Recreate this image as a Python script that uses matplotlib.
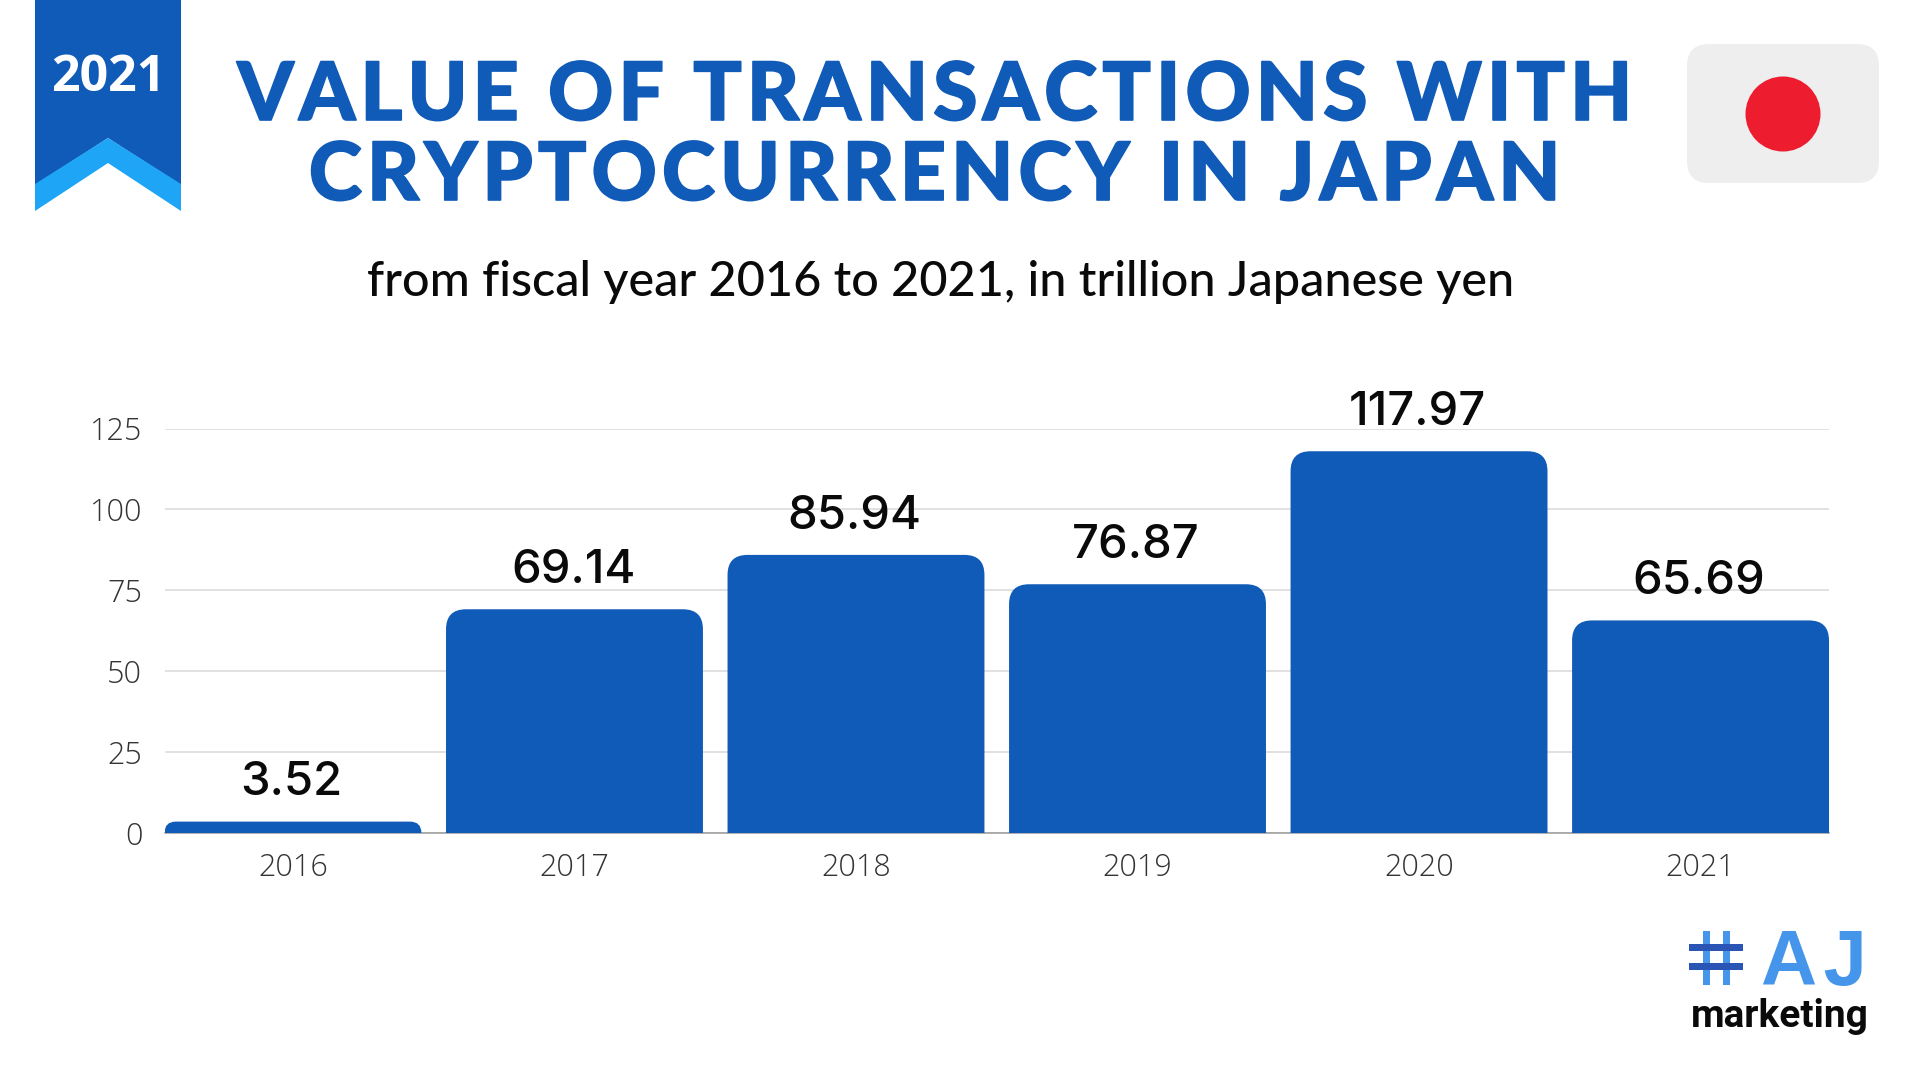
"""
Value of transactions with cryptocurrency in Japan, fiscal years 2016 to 2021.
Rounded bars plus the ribbon, flag and logo decorations. Saves out.png.
"""
from __future__ import annotations

import matplotlib
matplotlib.use("Agg")
import matplotlib.patheffects as pe
import matplotlib.pyplot as plt
from matplotlib.patches import Circle, FancyBboxPatch, PathPatch, Polygon, Rectangle
from matplotlib.path import Path

YEARS = ["2016", "2017", "2018", "2019", "2020", "2021"]
VALUES = [3.52, 69.14, 85.94, 76.87, 117.97, 65.69]
VALUE_LABELS = ["3.52", "69.14", "85.94", "76.87", "117.97", "65.69"]
Y_TICKS = [0, 25, 50, 75, 100, 125]

BLUE = "#105ab8"
LIGHT_BLUE = "#1ea5f5"
LOGO_BLUE = "#4596ea"
LOGO_DARK = "#2a55b5"
W, H = 1920, 1080
HAIR = "\u200a"


def spaced(text: str, n: int = 1) -> str:
    # matplotlib has no letter spacing, so pad with hair spaces
    return (HAIR * n).join(text)


def rounded_bar(ax, bar, radius_px: float) -> None:
    # swap a square bar for one with rounded top corners
    x0, w = bar.get_x(), bar.get_width()
    h = bar.get_height()
    x1 = x0 + w
    xmin, xmax = ax.get_xlim()
    ymin, ymax = ax.get_ylim()
    px_x = ax.bbox.width / (xmax - xmin)
    px_y = ax.bbox.height / (ymax - ymin)
    r_px = min(radius_px, h * px_y)
    rx, ry = r_px / px_x, r_px / px_y
    verts = [
        (x0, 0), (x0, h - ry), (x0, h), (x0 + rx, h),
        (x1 - rx, h), (x1, h), (x1, h - ry), (x1, 0), (x0, 0),
    ]
    codes = [
        Path.MOVETO, Path.LINETO, Path.CURVE3, Path.CURVE3,
        Path.LINETO, Path.CURVE3, Path.CURVE3, Path.LINETO, Path.CLOSEPOLY,
    ]
    bar.set_visible(False)
    ax.add_patch(PathPatch(Path(verts, codes), facecolor=BLUE, edgecolor="none", zorder=3))


def main() -> None:
    fig = plt.figure(figsize=(W / 100, H / 100), dpi=100, facecolor="white")

    # Chart
    ax = fig.add_axes([164.5 / W, (H - 833) / H, 1664.5 / W, 404.5 / H])
    bar_w = 0.9126
    ax.set_xlim(-bar_w / 2, 5 + bar_w / 2)
    ax.set_ylim(0, 125)
    positions = list(range(len(YEARS)))
    bars = ax.bar(positions, VALUES, width=bar_w, color=BLUE, zorder=3)
    for bar in bars:
        rounded_bar(ax, bar, 20)
    for x, val, lab in zip(positions, VALUES, VALUE_LABELS):
        ax.annotate(lab, (x, val), xytext=(-1, 19), textcoords="offset points",
                    ha="center", va="baseline", fontsize=34, color="#0a0a0a",
                    family="Inter", fontweight="medium")

    ax.set_xticks(positions, YEARS)
    ax.set_yticks(Y_TICKS)
    ax.tick_params(axis="both", length=0, labelsize=22, labelcolor="#333333")
    ax.tick_params(axis="x", pad=14)
    ax.tick_params(axis="y", pad=16)
    for lab in ax.get_xticklabels() + ax.get_yticklabels():
        lab.set_family("Open Sans")
        lab.set_fontweight("light")
    ax.grid(True, axis="y", color="#d8d8d8", linewidth=1.1, zorder=0)
    ax.set_axisbelow(True)
    for name, spine in ax.spines.items():
        spine.set_visible(name == "bottom")
    ax.spines["bottom"].set_color("#999999")
    ax.spines["bottom"].set_linewidth(1.1)

    # Decorations, in pixel coordinates
    deco = fig.add_axes([0, 0, 1, 1], zorder=5)
    deco.set_xlim(0, W)
    deco.set_ylim(H, 0)
    deco.axis("off")

    deco.add_patch(Polygon([(35, 0), (181, 0), (181, 185), (108, 138), (35, 185)],
                           facecolor=BLUE, edgecolor="none"))
    deco.add_patch(Polygon([(35, 184), (108, 138), (181, 184), (181, 211), (108, 163), (35, 211)],
                           facecolor=LIGHT_BLUE, edgecolor="none"))
    deco.text(108, 91, "2021", color="white", fontsize=36, fontweight="bold",
              family="Open Sans", ha="center", va="baseline")

    # slight stroke to bring the caps up to the original height
    heavy = [pe.withStroke(linewidth=1.2, foreground=BLUE)]
    deco.text(934, 120, spaced("VALUE OF TRANSACTIONS WITH"), color=BLUE, fontsize=58,
              family="Lato", fontweight="black", ha="center", va="baseline", path_effects=heavy)
    deco.text(934, 200, spaced("CRYPTOCURRENCY IN JAPAN"), color=BLUE, fontsize=58,
              family="Lato", fontweight="black", ha="center", va="baseline", path_effects=heavy)
    deco.text(941, 296, "from fiscal year 2016 to 2021, in trillion Japanese yen",
              color="#0a0a0a", fontsize=35, family="Lato", fontweight="medium",
              ha="center", va="baseline")

    # Flag
    deco.add_patch(FancyBboxPatch((1709, 66), 148, 95, boxstyle="round,pad=22,rounding_size=22",
                                  facecolor="#eeeeee", edgecolor="none"))
    deco.add_patch(Circle((1783, 114), 37.5, facecolor="#ed1c2e", edgecolor="none"))

    # Logo
    for x in (1703, 1723):
        deco.add_patch(Rectangle((x, 931), 7, 54, facecolor=LOGO_BLUE, edgecolor="none"))
    for y in (944, 963):
        deco.add_patch(Rectangle((1689, y), 54, 7, facecolor=LOGO_DARK, edgecolor="none"))
    deco.text(1761, 985, spaced("AJ"), color=LOGO_BLUE, fontsize=56, family="Liberation Sans",
              fontweight="bold", ha="left", va="baseline")
    deco.text(1780, 1027, "marketing", color="#0a0a0a", fontsize=28, family="Roboto",
              fontweight="bold", ha="center", va="baseline")

    fig.savefig("out.png", dpi=100)


if __name__ == "__main__":
    main()
